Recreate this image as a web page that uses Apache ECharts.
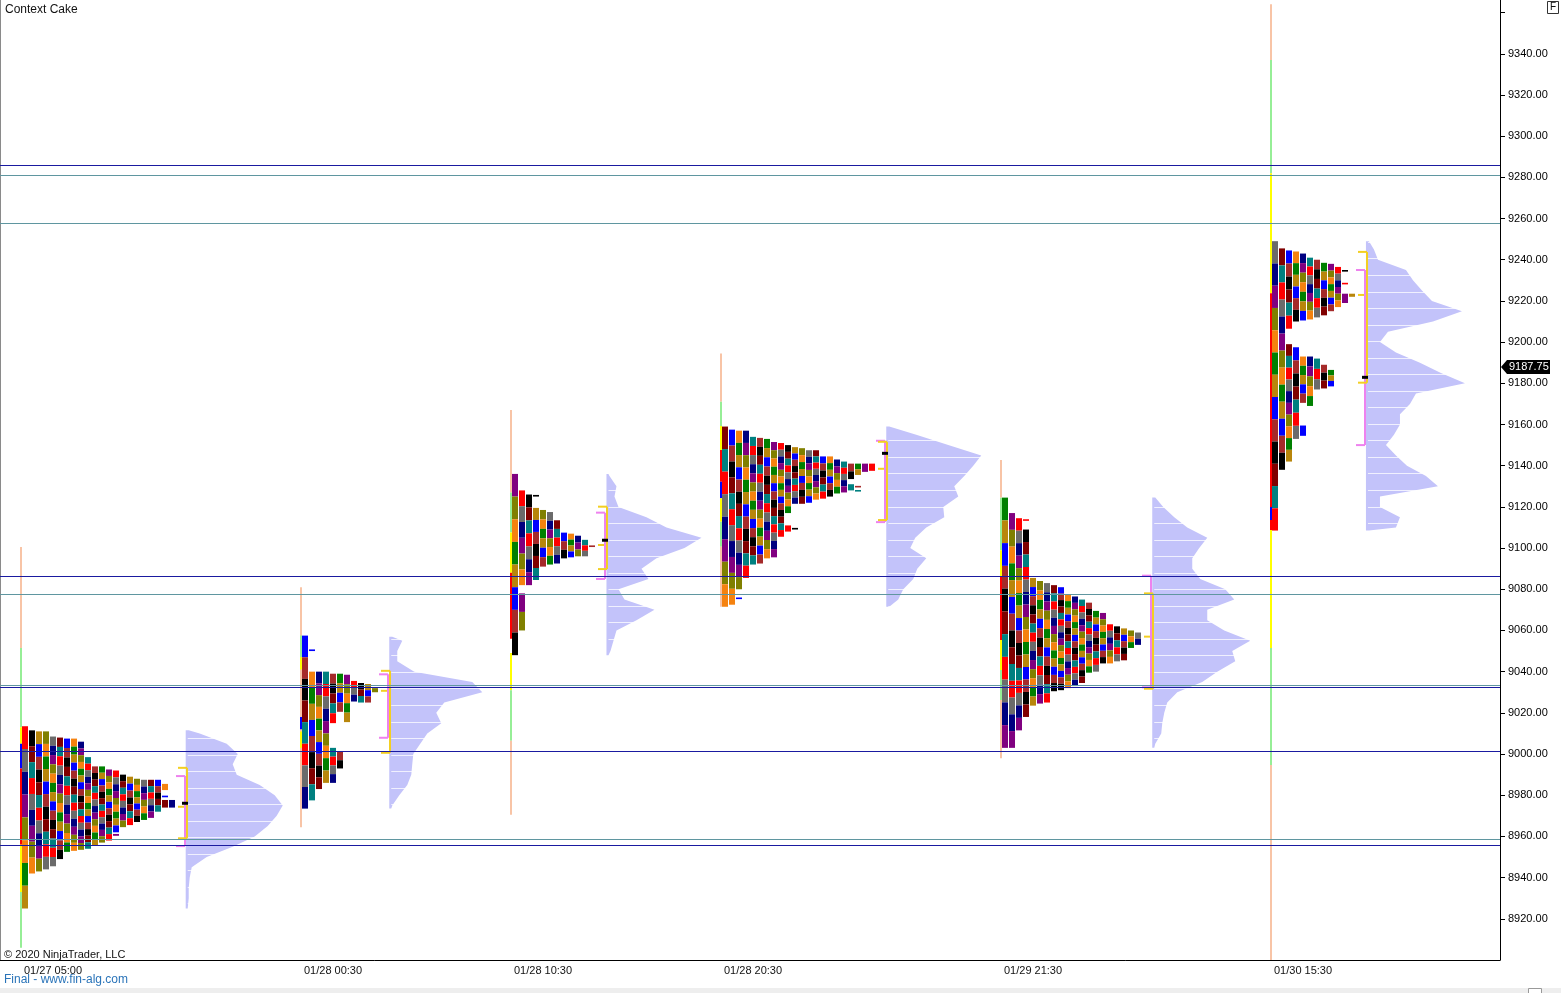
<!DOCTYPE html>
<html><head><meta charset="utf-8">
<script src="https://cdn.jsdelivr.net/npm/echarts@6/dist/echarts.min.js"></script>
<style>html,body{margin:0;padding:0;background:#fff;overflow:hidden}#c{width:1561px;height:993px;}</style>
</head><body><div id="c"></div>
<script>
// ---------------- DATA ----------------
const SESSION_LABELS = ['01/27 05:00','01/28 00:30','01/28 10:30','01/28 20:30','01/29 21:30','01/30 15:30'];
const SESSION_START = [3.14, 43.14, 73.14, 103.14, 143.14, 181.71];   // bar slot of first TPO column
const VP_BASE = [26.53, 55.61, 86.64, 126.61, 164.61, 195.14];         // bar slot of volume profile base
const X_MAX = 214.29;
const Y_MIN = 8900, Y_MAX = 9366.1, Y_STEP = 20;
const LAST_PRICE = 9187.75;
const NAVY_LEVELS = [9286.1, 9086.4, 9032.4, 9001.5, 8955.7];
const TEAL_LEVELS = [9281.0, 9257.7, 9077.7, 9033.3, 8958.6];

// TPO columns: per column, list of [low, high] price ranges
const TPO_1 = [
 [[8925,9013.5]],[[8942,9011.5]],[[8943,9011]],[[8944,9011]],[[8945.5,9008.5]],[[8949,9008]],
 [[8952.5,9007.5]],[[8953,9007.5]],[[8953.5,9006]],[[8954,8998.5]],[[8955.5,8994]],[[8957,8994]],
 [[8958,8992.5]],[[8962,8992],[8960.3,8961.2]],[[8964.5,8990]],[[8965.5,8989]],[[8967,8988]],
 [[8968,8987.5]],[[8969,8987.5]],[[8972,8987.5]],[[8982.5,8985.5],[8979,8979.8],[8974,8977.7]],[[8974,8977.7]]
];
const TPO_2 = [
 [[8973.5,9057.5]],[[8977.5,9040],[9050,9050.8]],[[8983,9040]],[[8986,9040]],[[9015,9039],[8986,9003]],
 [[9020.5,9039],[8993,9001]],[[9015.5,9038.5]],[[9025.5,9035.5]],[[9025,9034.5]],[[9025,9034]],[[9030,9032]]
];
const TPO_3 = [
 [[9048,9136]],[[9082,9128],[9060,9078]],[[9082,9126]],[[9084.5,9119.5],[9125,9125.8]],[[9091,9118.5]],
 [[9092,9117.5]],[[9092.5,9113.5]],[[9095,9107.5]],[[9095.5,9107]],[[9096,9106]],[[9096,9104]],[[9100.5,9101.3]]
];
const TPO_4 = [
 [[9071.5,9159]],[[9072.5,9157.5]],[[9080,9157],[9075.3,9076]],[[9085.5,9157]],[[9092,9154]],[[9092.5,9153.5]],
 [[9095,9153]],[[9095.5,9151.5]],[[9105.5,9151]],[[9117,9150],[9108,9111]],[[9121.5,9149],[9109,9109.8]],
 [[9121.5,9148.5]],[[9122,9147.5]],[[9123.5,9147.5]],[[9124,9144.5]],[[9125,9144.5]],[[9126.5,9143]],
 [[9127,9142]],[[9133.5,9141],[9128,9131]],[[9135.5,9141],[9129.5,9130.2],[9127.5,9128.2]],[[9137,9141]],[[9137.5,9141]]
];
const TPO_5 = [
 [[9003,9124.5]],[[9003,9117]],[[9011.5,9114.5]],[[9018,9109],[9113.3,9114]],[[9023.5,9085.5]],[[9024.5,9084]],
 [[9025,9083]],[[9030.5,9082]],[[9031,9081]],[[9032,9077.5]],[[9033,9076.5]],[[9034.5,9075]],[[9039.5,9073.5]],
 [[9040,9069.5]],[[9044,9068.5]],[[9044,9063]],[[9045,9062]],[[9045.5,9061]],[[9051.5,9060]],[[9053,9059]]
];
const TPO_6 = [
 [[9108.5,9249]],[[9138,9245.5]],[[9206.5,9244.5],[9142,9199]],[[9210,9244],[9153,9197.5]],
 [[9210.5,9243],[9170.5,9193],[9154.5,9159.5]],[[9211,9241],[9169,9193]],[[9212,9240],[9177,9192]],
 [[9213,9238.5],[9177.5,9189]],[[9215,9238],[9178.5,9186.5]],[[9217,9236.5]],
 [[9234.3,9235],[9228.2,9228.8],[9219,9223.5]],[[9222,9223.5]]
];

// Session range line segments: [low, high, phase]
const RANGE_1 = [[9051.5,9100.5,'x'],[9013,9051.5,'i'],[9005,9013,'o'],[8993,9005,'d'],[8956,8993,'u'],[8933,8956,'o'],[8906,8933,'i']];
const RANGE_2 = [[8964.5,9081,'x'],[9047,9057.5,'i'],[9041,9047,'o'],[9012,9018,'d'],[9003,9011,'o']];
const RANGE_3 = [[9127,9167,'x'],[9107.5,9127,'i'],[9088,9107.5,'o'],[9056,9088,'u'],[9031,9049,'o'],[9006.5,9031,'i'],[8970.5,9006.5,'x']];
const RANGE_4 = [[9171,9194.5,'x'],[9159.3,9171,'i'],[9147.6,9159.3,'o'],[9132.2,9147.6,'u'],[9124.2,9132.2,'d'],[9112.8,9124.2,'o'],[9100.7,9112.8,'i'],[9071.5,9100.7,'x']];
const RANGE_5 = [[9124.4,9142.8,'x'],[9099,9124.4,'i'],[9086,9099,'o'],[9055.4,9086,'u'],[9040.8,9055.4,'o'],[9026.2,9040.8,'i'],[8998,9026.2,'x']];
const RANGE_6 = [[9337,9364,'x'],[9282,9337,'i'],[9223.7,9282,'o'],[9120,9223.7,'u'],[9113.6,9120,'d'],[9108.8,9113.6,'u'],[9051.5,9108.8,'o'],[8994.7,9051.5,'i'],[8900,8994.7,'x']];

// Value areas: yellow [low, high, mid], pink [low, high], POC
const VA_YELLOW = [[8959.1,8993.3,8974.4],[9000.6,9040.4,9030.7],[9089.8,9120.1,9101.5],[9113.6,9151.6,9138.5],[9031.7,9078.0,9057.0],[9180.3,9243.8,9222.9]];
const VA_PINK = [[8955.3,8989.3],[9007.9,9038.7],[9085.0,9117.2],[9112.6,9152.1],[9032.4,9086.6],[9150.0,9235.0]];
const POC = [8976.1, null, 9103.8, 9146.0, null, 9182.9];

// Volume profiles: [price, volume]
const VP_1 = [[9011.5,3],[9010,14],[9005,41],[9000,52],[8995,47],[8990,51],[8985,74],[8980,89],[8975,97],[8970,91],[8965,82],[8960,69],[8955,47],[8950,21],[8945,6],[8940,4],[8935,3],[8930,3],[8925,2]];
const VP_2 = [[9057,3],[9055,13],[9050,8],[9045,8],[9040,25],[9035,83],[9030,93],[9025,55],[9020,47],[9015,52],[9010,38],[9005,31],[9000,24],[8995,23],[8990,22],[8985,18],[8980,10],[8975,3],[8973.5,2]];
const VP_3 = [[9136,2],[9135,3],[9130,10],[9125,8],[9120,12],[9115,40],[9110,60],[9105,95],[9100,78],[9095,50],[9090,35],[9085,42],[9080,12],[9075,18],[9070,48],[9065,30],[9060,10],[9055,7],[9050,4],[9048,2]];
const VP_4 = [[9159,3],[9155,30],[9150,62],[9145,95],[9140,87],[9135,78],[9130,68],[9125,72],[9120,57],[9115,58],[9110,40],[9105,29],[9100,24],[9095,40],[9090,31],[9085,27],[9080,17],[9075,12],[9071.5,3]];
const VP_5 = [[9124.5,3],[9120,11],[9115,22],[9110,35],[9105,55],[9100,47],[9095,40],[9090,40],[9085,48],[9080,73],[9075,82],[9070,55],[9065,55],[9060,72],[9055,98],[9050,80],[9045,83],[9040,65],[9035,50],[9030,25],[9025,15],[9020,12],[9015,10],[9010,9],[9005,3],[9003,2]];
const VP_6 = [[9249,3],[9245,8],[9240,12],[9235,40],[9230,47],[9225,56],[9220,66],[9215,96],[9210,67],[9205,22],[9200,14],[9195,30],[9190,54],[9185,75],[9180,99],[9175,50],[9170,44],[9165,34],[9160,34],[9155,28],[9150,20],[9145,30],[9140,41],[9135,60],[9130,72],[9125,14],[9120,14],[9115,34],[9110,30],[9108.5,3]];

// ---------------- STYLE ----------------
const TPO = [TPO_1,TPO_2,TPO_3,TPO_4,TPO_5,TPO_6];
const RANGES = [RANGE_1,RANGE_2,RANGE_3,RANGE_4,RANGE_5,RANGE_6];
const VPS = [VP_1,VP_2,VP_3,VP_4,VP_5,VP_6];
const PALETTE = ['#ff0000','#000080','#808000','#008000','#0000ff','#000000','#008080','#6b6b6b','#800080','#f5820f','#b8860b','#a52a2a','#800000'];
const PHASE_COLORS = {x:'#f8c4a6', i:'#96ee96', o:'#ffff00', u:'#ff0000', d:'#0000ff'};
const VP_COLOR = '#c3c3fa';
const VP_SCALE = 1/7;
const SEP_BASE = 8991.7, SEP_STEP = 8.03;
const CELL_H = [11, 8, 6, 6, 4.5, 4.5, 4.5, 4];   // cell height (price) by column, later columns use the last
const FONT = '"Liberation Sans", Arial, sans-serif';

const cells = [];
TPO.forEach((cols, pi) => {
  cols.forEach((ranges, ci) => {
    const x = SESSION_START[pi] + ci;
    const h = ci < CELL_H.length ? CELL_H[ci] : 3.2;
    ranges.forEach(([lo, hi], ri) => {
      const n = Math.max(1, Math.round((hi - lo) / h));
      const st = (hi - lo) / n;
      for (let k = 0; k < n; k++) {
        const top = hi - k * st;
        cells.push([x, top - st, top, (pi * 4 + ci * 5 + (k + ri * 3) * 7) % PALETTE.length]);
      }
    });
  });
});
const rangeData = [];
RANGES.forEach((segs, pi) => segs.forEach(s => rangeData.push([SESSION_START[pi], s[0], s[1], s[2]])));
const levelData = NAVY_LEVELS.map(p => [p, 0]).concat(TEAL_LEVELS.map(p => [p, 1]));

const chart = echarts.init(document.getElementById('c'));
chart.setOption({
  animation: false,
  backgroundColor: '#fff',
  grid: {left: 0, top: 0, width: 1500, height: 960, outerBoundsMode: 'none'},
  xAxis: {type: 'value', min: 0, max: X_MAX, axisLine: {show: true, onZero: false, lineStyle: {color: '#000', width: 1}},
          axisTick: {show: false}, axisLabel: {show: false}, splitLine: {show: false}},
  yAxis: {type: 'value', position: 'right', min: Y_MIN, max: Y_MAX, interval: Y_STEP,
          axisLine: {show: true, onZero: false, lineStyle: {color: '#000'}},
          axisTick: {show: true, length: 5, lineStyle: {color: '#000'}},
          splitLine: {show: false},
          axisLabel: {showMaxLabel: false, showMinLabel: false, margin: 8, color: '#000', fontSize: 11, fontFamily: FONT,
                      formatter: v => (v > 9350 || v < 8910) ? '' : v.toFixed(2)}},
  graphic: [
    {type: 'rect', left: 0, top: 0, shape: {width: 1, height: 960}, style: {fill: '#8a8a8a'}, silent: true},
    {type: 'text', left: 5, top: 4, style: {text: 'Context Cake', fill: '#111', font: '12px ' + FONT}},
    {type: 'text', left: 4, top: 949, style: {text: '© 2020 NinjaTrader, LLC', fill: '#111', font: '11px ' + FONT}},
    {type: 'text', left: 4, top: 974, style: {text: 'Final - www.fin-alg.com', fill: '#2a74b9', font: '12px ' + FONT}},
    {type: 'rect', left: 1547, top: 1, shape: {width: 11, height: 12}, style: {fill: '#fff', stroke: '#333', lineWidth: 1}},
    {type: 'text', left: 1550, top: 2, style: {text: 'F', fill: '#111', font: '10px ' + FONT}},
    {type: 'rect', left: 0, top: 988, shape: {width: 1561, height: 5}, style: {fill: '#eeeeee'}},
    {type: 'rect', left: 1528, top: 988, shape: {width: 13, height: 5}, style: {fill: '#fff', stroke: '#999', lineWidth: 1}}
  ],
  series: [
    { // volume profiles
      type: 'custom', z: 2, silent: true,
      data: VPS.map((v, i) => [VP_BASE[i], v[0][0], i]),
      renderItem: (params, api) => {
        const i = api.value(2), base = VP_BASE[i], vp = VPS[i];
        const pts = [api.coord([base, vp[0][0]])];
        vp.forEach(([p, w]) => pts.push(api.coord([base + w * VP_SCALE, p])));
        pts.push(api.coord([base, vp[vp.length - 1][0]]));
        const children = [{type: 'polygon', shape: {points: pts}, style: {fill: VP_COLOR}}];
        const maxW = Math.max(...vp.map(d => d[1]));
        const lo = vp[vp.length - 1][0], hi = vp[0][0];
        for (let p = SEP_BASE + Math.ceil((lo - SEP_BASE) / SEP_STEP) * SEP_STEP; p < hi; p += SEP_STEP) {
          const a = api.coord([base, p]), b = api.coord([base + maxW * VP_SCALE + 1, p]);
          const y = Math.round(a[1]) + 0.5;
          children.push({type: 'line', shape: {x1: a[0] + 2, y1: y, x2: b[0], y2: y}, style: {stroke: '#ffffff', lineWidth: 1, opacity: 0.75}});
        }
        return {type: 'group', children};
      }
    },
    { // session range line
      type: 'custom', z: 3, silent: true, data: rangeData,
      renderItem: (params, api) => {
        const a = api.coord([api.value(0), api.value(2)]), b = api.coord([api.value(0), api.value(1)]);
        return {type: 'rect', shape: {x: Math.round(a[0]) - 2, y: a[1], width: 2, height: b[1] - a[1]},
                style: {fill: PHASE_COLORS[rangeData[params.dataIndex][3]]}};
      }
    },
    { // TPO cells
      type: 'custom', z: 3, silent: true, data: cells,
      renderItem: (params, api) => {
        const x = api.value(0);
        const a = api.coord([x, api.value(2)]), b = api.coord([x + 6 / 7, api.value(1)]);
        const x0 = Math.round(a[0]);
        return {type: 'rect', shape: {x: x0, y: a[1], width: Math.round(b[0]) - x0, height: Math.max(1.6, b[1] - a[1])},
                style: {fill: PALETTE[api.value(3)]}};
      }
    },
    { // value area brackets and POC
      type: 'custom', z: 4, silent: true,
      data: VA_YELLOW.map((v, i) => [VP_BASE[i], v[0], i]),
      renderItem: (params, api) => {
        const i = api.value(2), bx = Math.round(api.coord([VP_BASE[i], 0])[0]);
        const Y = VA_YELLOW[i], P = VA_PINK[i];
        const yc = p => api.coord([VP_BASE[i], p])[1];
        const ch = [];
        const pk = '#ee82ee', yl = '#f3cf22';
        ch.push({type: 'rect', shape: {x: bx - 2, y: yc(P[1]), width: 2, height: yc(P[0]) - yc(P[1])}, style: {fill: pk}});
        ch.push({type: 'rect', shape: {x: bx - 10, y: yc(P[1]) - 1, width: 9, height: 2}, style: {fill: pk}});
        ch.push({type: 'rect', shape: {x: bx - 10, y: yc(P[0]) - 1, width: 9, height: 2}, style: {fill: pk}});
        ch.push({type: 'rect', shape: {x: bx, y: yc(Y[1]), width: 2, height: yc(Y[0]) - yc(Y[1])}, style: {fill: yl}});
        ch.push({type: 'rect', shape: {x: bx - 8, y: yc(Y[1]) - 1, width: 9, height: 2}, style: {fill: yl}});
        ch.push({type: 'rect', shape: {x: bx - 8, y: yc(Y[0]) - 1, width: 9, height: 2}, style: {fill: yl}});
        ch.push({type: 'rect', shape: {x: bx - 8, y: yc(Y[2]) - 1, width: 6, height: 2}, style: {fill: yl}});
        if (POC[i] != null) ch.push({type: 'rect', shape: {x: bx - 4, y: yc(POC[i]) - 1.5, width: 6, height: 3}, style: {fill: '#000'}});
        return {type: 'group', children: ch};
      }
    },
    { // horizontal levels
      type: 'custom', z: 5, silent: true, data: levelData,
      renderItem: (params, api) => {
        const a = api.coord([0, api.value(0)]), b = api.coord([X_MAX, api.value(0)]);
        const y = Math.round(a[1]) + 0.5;
        return {type: 'rect', shape: {x: a[0], y: Math.round(a[1]), width: b[0] - a[0], height: 1},
                style: {fill: api.value(1) === 0 ? '#1a1aa0' : '#5f96a0'}};
      }
    },
    { // time labels
      type: 'custom', z: 6, silent: true, clip: false,
      data: SESSION_START.map((s, i) => [s, Y_MIN, i]),
      renderItem: (params, api) => {
        const a = api.coord([api.value(0), api.value(1)]);
        return {type: 'text', x: Math.round(a[0]) + 2, y: a[1] + 5,
                style: {text: SESSION_LABELS[api.value(2)], fill: '#111', font: '11px ' + FONT, textVerticalAlign: 'top'}};
      }
    },
    { // last price tag
      type: 'custom', z: 7, silent: true, clip: false,
      data: [[X_MAX, LAST_PRICE]],
      renderItem: (params, api) => {
        const a = api.coord([api.value(0), api.value(1)]);
        const x = a[0] + 1, y = Math.round(a[1]);
        return {type: 'group', children: [
          {type: 'polygon', shape: {points: [[x, y], [x + 6, y - 7], [x + 49, y - 7], [x + 49, y + 7], [x + 6, y + 7]]}, style: {fill: '#000'}},
          {type: 'text', x: x + 8, y: y, style: {text: LAST_PRICE.toFixed(2), fill: '#fff', font: '11px ' + FONT, textVerticalAlign: 'middle'}}
        ]};
      }
    }
  ]
});
</script></body></html>
